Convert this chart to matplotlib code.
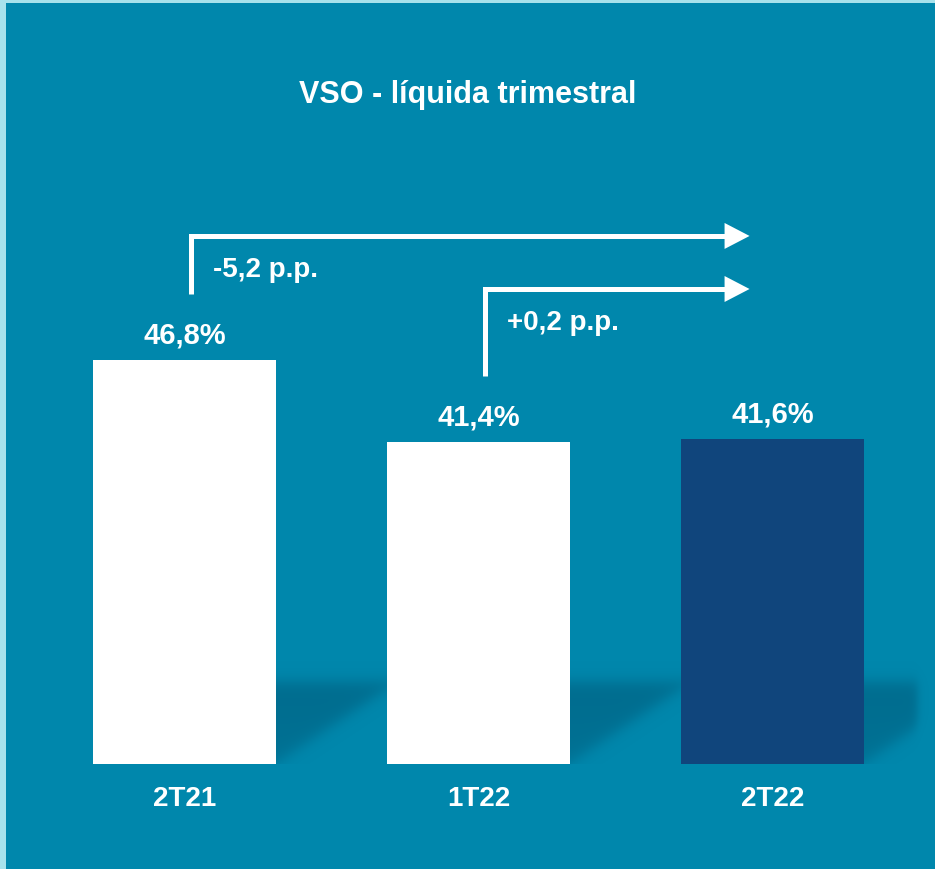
import numpy as np
import matplotlib
matplotlib.use("Agg")
import matplotlib.pyplot as plt
from matplotlib.patches import Rectangle, Polygon
from matplotlib.transforms import ScaledTranslation

# ---------------- data ----------------
title = "VSO - líquida trimestral"
categories = ["2T21", "1T22", "2T22"]
values = [46.8, 41.4, 41.6]
value_labels = ["46,8%", "41,4%", "41,6%"]
change_labels = ["-5,2 p.p.", "+0,2 p.p."]
change_from = [0, 1]
change_to = [2, 2]

# ---------------- style ----------------
BG = "#0087AC"
BORDER = "#A7E2EC"
SHADOW = "#004F6E"
bar_colors = ["#FFFFFF", "#FFFFFF", "#10457C"]
plt.rcParams["font.family"] = ["Liberation Sans", "DejaVu Sans"]
plt.rcParams["font.weight"] = "bold"

W, H, DPI = 935, 870, 100
PX_X = 294.0        # pixels per category step
PX_Y = 15.2         # pixels per percentage point
BASE = 20.2         # value at the bar baseline
X0_PX = 184.5       # pixel x of first category

fig = plt.figure(figsize=(W / DPI, H / DPI), dpi=DPI, facecolor=BG)
ax = fig.add_axes([0, 105 / H, 1, 760 / H])
ax.set_facecolor("none")

x = np.arange(len(categories))
width = 0.622
xlim = (-X0_PX / PX_X, (W - X0_PX) / PX_X)
ylim = (BASE, BASE + 760 / PX_Y)

# bars
ax.bar(x, np.array(values) - BASE, bottom=BASE, width=width,
       color=bar_colors, zorder=3, linewidth=0)

# soft floor shadows to the right of each bar
nx, ny, hmax = 935, 140, 140.0
xd = np.linspace(xlim[0], xlim[1], nx)
XX, HH = np.meshgrid((xd - xlim[0]) * PX_X, np.linspace(0, hmax, ny))
sig = lambda z: 1 / (1 + np.exp(-z))
alpha = np.zeros_like(XX)
for i in x:
    xr = (i + width / 2 - xlim[0]) * PX_X
    dx = XX - xr
    a = (dx > 0) * sig((82 - HH) / 4.5) * sig((HH - 0.68 * dx) / 5) * sig((918 - XX) / 2.5)
    a *= 0.8 + 0.2 * np.clip(HH / 80, 0, 1)
    alpha = np.maximum(alpha, a)
rgb = matplotlib.colors.to_rgb(SHADOW)
img = np.zeros((ny, nx, 4))
img[..., 0], img[..., 1], img[..., 2] = rgb
img[..., 3] = alpha * 0.48
ax.imshow(img, extent=[xlim[0], xlim[1], BASE, BASE + hmax / PX_Y],
          origin="lower", aspect="auto", zorder=1, interpolation="bilinear")

# value labels
for i, (v, lab) in enumerate(zip(values, value_labels)):
    ax.text(i, v + 1.15, lab, ha="center", va="baseline", fontsize=21,
            color="white", fontweight="bold", zorder=4)

# change arrows
arrow_levels = [54.94, 51.45]
for lab, i0, i1, lev in zip(change_labels, change_from, change_to, arrow_levels):
    xs = i0 + 0.022
    ystart = values[i0] + 4.35
    tip = i1 - 0.078
    ax.plot([xs, xs, tip - 0.05], [ystart, lev, lev], color="white", lw=3.6,
            solid_joinstyle="miter", solid_capstyle="butt", zorder=4)
    tr = fig.dpi_scale_trans + ScaledTranslation(tip, lev, ax.transData)
    ax.add_patch(Polygon([(0, 0), (-0.25, 0.13), (-0.25, -0.13)], closed=True,
                         transform=tr, color="white", zorder=4, linewidth=0))
    ax.text(xs + 0.075, lev - 2.64, lab, ha="left", va="baseline", fontsize=20,
            color="white", fontweight="bold", zorder=4)

# axes cosmetics
ax.set_xlim(*xlim)
ax.set_ylim(*ylim)
ax.set_xticks(x, categories)
ax.set_yticks([])
ax.tick_params(axis="x", length=0, pad=15, labelsize=20, labelcolor="white")
for s in ax.spines.values():
    s.set_visible(False)

# title
fig.text(0.5, 1 - 103 / H, title, ha="center", va="baseline", fontsize=22,
         color="white", fontweight="bold")

# thin light border (top & left)
fig.add_artist(Rectangle((0, 1 - 4 / H), 1, 4 / H, transform=fig.transFigure,
                         color=BORDER, linewidth=0))
fig.add_artist(Rectangle((0, 0), 6 / W, 1, transform=fig.transFigure,
                         color=BORDER, linewidth=0))

fig.savefig("out.png", dpi=DPI, facecolor=BG)
